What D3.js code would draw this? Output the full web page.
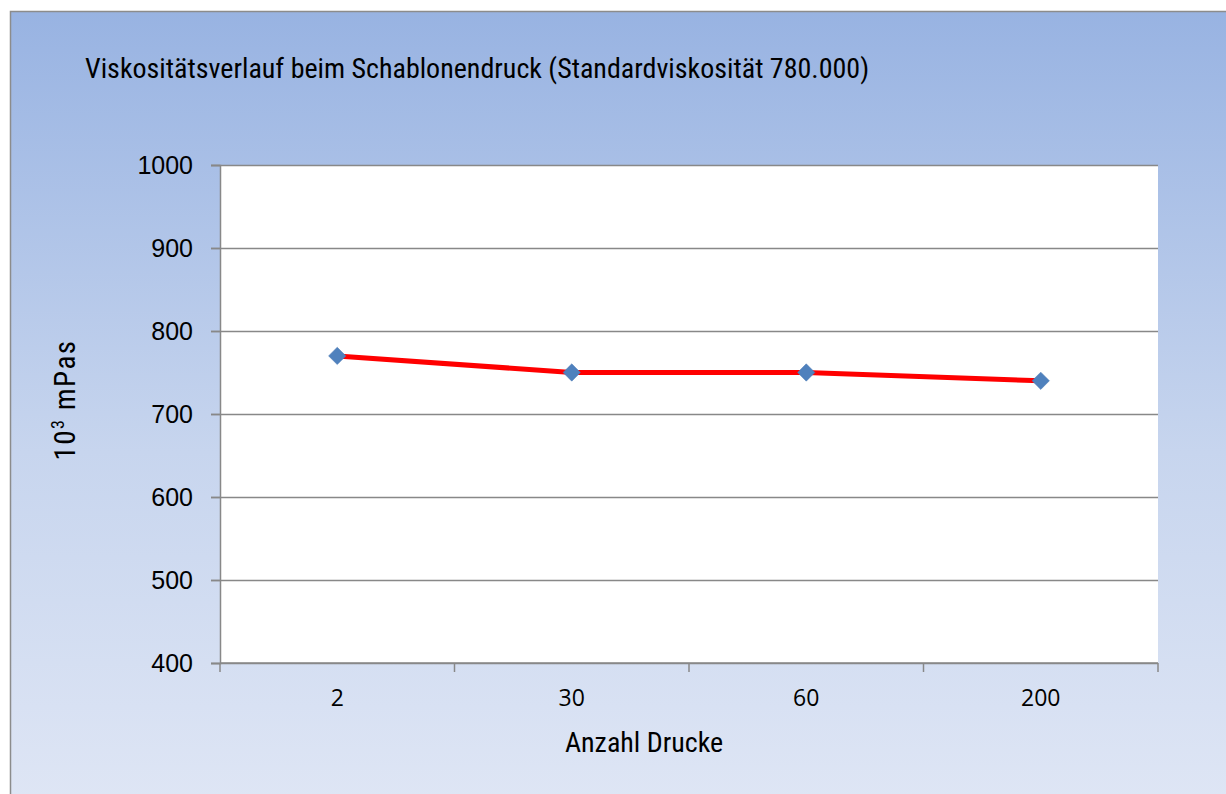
<!DOCTYPE html>
<html>
<head>
<meta charset="utf-8">
<script src="https://cdn.jsdelivr.net/npm/d3@7"></script>
<style>
  html, body { margin: 0; padding: 0; background: #fff; }
  svg { display: block; }
</style>
</head>
<body>
<svg id="chart" width="1226" height="794"></svg>
<script>
// chart data
const categories = ["2", "30", "60", "200"];
const viscosity = [770, 750, 750, 740];
const yTicks = [400, 500, 600, 700, 800, 900, 1000];
const titleText = "Viskositätsverlauf beim Schablonendruck (Standardviskosität 780.000)";
const xTitle = "Anzahl Drucke";

const svg = d3.select("#chart");
const narrow = "'Liberation Sans Narrow', 'Arial Narrow', 'Roboto Condensed', sans-serif";

// background gradient of the chart area
const defs = svg.append("defs");
const grad = defs.append("linearGradient")
    .attr("id", "bg").attr("x1", 0).attr("y1", 0).attr("x2", 0).attr("y2", 1);
grad.append("stop").attr("offset", "0%").attr("stop-color", "#98b3e2");
grad.append("stop").attr("offset", "55%").attr("stop-color", "#c7d5ee");
grad.append("stop").attr("offset", "100%").attr("stop-color", "#dfe6f5");

svg.append("rect")
    .attr("x", 10.5).attr("y", 11.5)
    .attr("width", 1240).attr("height", 800)
    .attr("fill", "url(#bg)")
    .attr("stroke", "#8c8c8c")
    .attr("stroke-width", 1.5);

// plot area
const margin = {top: 165, right: 68, bottom: 131, left: 220};
const width = 1226 - margin.left - margin.right;
const height = 794 - margin.top - margin.bottom;

const xScale = d3.scaleBand()
    .domain(categories)
    .range([margin.left, margin.left + width]);

const yScale = d3.scaleLinear()
    .domain([400, 1000])
    .range([margin.top + height, margin.top]);

svg.append("rect")
    .attr("x", margin.left).attr("y", margin.top)
    .attr("width", width).attr("height", height)
    .attr("fill", "#ffffff");

// gridlines
svg.append("g")
    .selectAll("line")
    .data(yTicks)
    .join("line")
    .attr("x1", margin.left - 9)
    .attr("x2", margin.left + width)
    .attr("y1", d => Math.round(yScale(d)) + 0.5)
    .attr("y2", d => Math.round(yScale(d)) + 0.5)
    .attr("stroke", "#888888")
    .attr("stroke-width", 1.5);

// y axis
const yAxis = svg.append("g")
    .attr("transform", "translate(" + margin.left + ",0)")
    .call(d3.axisLeft(yScale).tickValues(yTicks).tickFormat(d3.format("d")).tickSize(9).tickPadding(18));
yAxis.select(".domain").attr("stroke", "#888888").attr("stroke-width", 1.5);
yAxis.selectAll(".tick line").attr("stroke", "#888888").attr("stroke-width", 1.5);
yAxis.selectAll("text")
    .attr("font-family", "'Liberation Sans', Arial, sans-serif")
    .attr("font-size", 25)
    .attr("fill", "#000");

// x axis: ticks at band boundaries
const xAxis = svg.append("g")
    .attr("transform", "translate(0," + (margin.top + height) + ")");
xAxis.append("line")
    .attr("x1", margin.left).attr("x2", margin.left + width)
    .attr("stroke", "#888888").attr("stroke-width", 1.5);
const bounds = categories.map(c => xScale(c)).concat([margin.left + width]);
xAxis.selectAll(".bt")
    .data(bounds)
    .join("line")
    .attr("class", "bt")
    .attr("x1", d => d).attr("x2", d => d)
    .attr("y1", 0).attr("y2", 9)
    .attr("stroke", "#888888").attr("stroke-width", 1.5);
xAxis.selectAll(".lbl")
    .data(categories)
    .join("text")
    .attr("class", "lbl")
    .attr("x", d => xScale(d) + xScale.bandwidth() / 2)
    .attr("y", 43)
    .attr("text-anchor", "middle")
    .attr("font-family", "'Open Sans', 'Noto Sans', sans-serif")
    .attr("font-size", 23)
    .attr("fill", "#000")
    .text(d => d);

// line
const cx = (d, i) => xScale(categories[i]) + xScale.bandwidth() / 2;
const line = d3.line()
    .x((d, i) => cx(d, i))
    .y(d => yScale(d));

svg.append("path")
    .datum(viscosity)
    .attr("d", line)
    .attr("fill", "none")
    .attr("stroke", "#ff0000")
    .attr("stroke-width", 5)
    .attr("stroke-linejoin", "round");

// diamond markers
svg.append("g")
    .selectAll("path")
    .data(viscosity)
    .join("path")
    .attr("transform", (d, i) => "translate(" + cx(d, i) + "," + yScale(d) + ") rotate(45)")
    .attr("d", d3.symbol().type(d3.symbolSquare).size(150))
    .attr("fill", "#4f81bd")
    .attr("stroke", "#4a7ab5")
    .attr("stroke-width", 0.5);

// title
svg.append("text")
    .attr("x", 85).attr("y", 78)
    .attr("font-family", narrow)
    .attr("font-size", 28)
    .attr("fill", "#000")
    .text(titleText);

// x axis title
svg.append("text")
    .attr("x", 644).attr("y", 752)
    .attr("text-anchor", "middle")
    .attr("font-family", narrow)
    .attr("font-size", 28)
    .attr("fill", "#000")
    .text(xTitle);

// y axis title with superscript
const yt = svg.append("text")
    .attr("transform", "translate(75,400) rotate(-90)")
    .attr("text-anchor", "middle")
    .attr("font-family", narrow)
    .attr("font-size", 29)
    .attr("letter-spacing", 1.5)
    .attr("fill", "#000");
yt.append("tspan").text("10");
yt.append("tspan").attr("dy", -11).attr("font-size", 18).text("3");
yt.append("tspan").attr("dy", 11).text("\u00a0mPas");
</script>
</body>
</html>
